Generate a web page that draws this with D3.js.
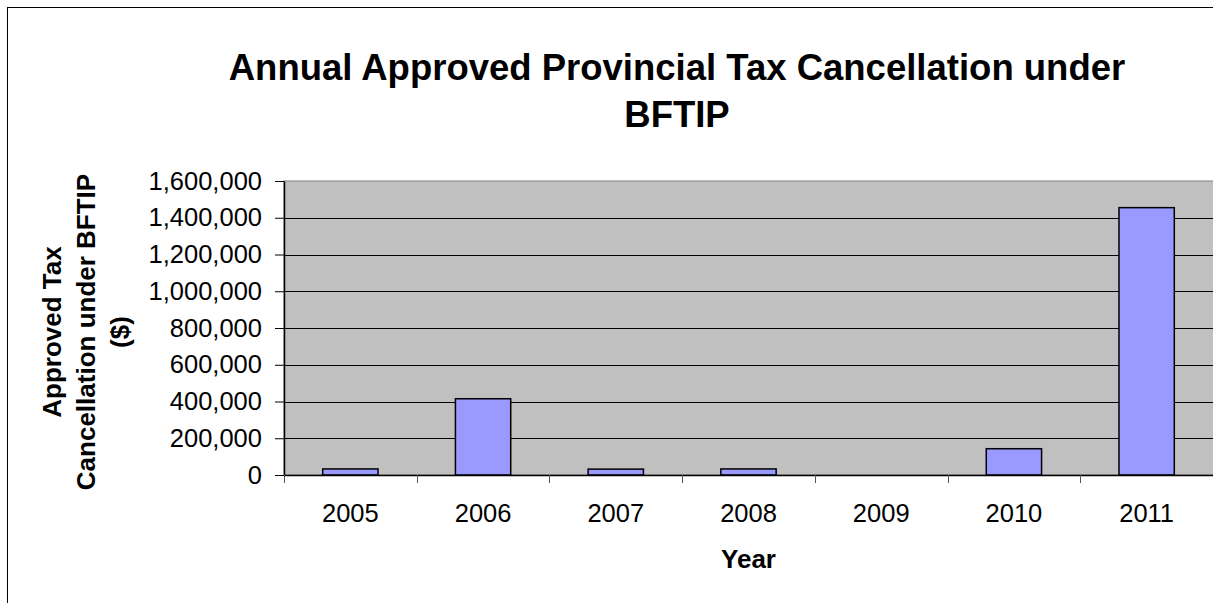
<!DOCTYPE html>
<html>
<head>
<meta charset="utf-8">
<script src="https://cdn.jsdelivr.net/npm/d3@7"></script>
<style>
  body { margin: 0; background: #fff; }
  svg { display: block; font-family: "Liberation Sans", Arial, sans-serif; }
</style>
</head>
<body>
<svg id="chart" width="1213" height="603"></svg>
<script>
// données
const years = ["2005", "2006", "2007", "2008", "2009", "2010", "2011"];
const amounts = [33000, 415000, 32000, 33000, 0, 143000, 1455000];
const yTicks = [0, 200000, 400000, 600000, 800000, 1000000, 1200000, 1400000, 1600000];
const titleLines = ["Annual Approved Provincial Tax Cancellation under", "BFTIP"];
const yLabelLines = ["Approved Tax", "Cancellation under BFTIP", "($)"];

const data = years.map((year, i) => ({ year: year, value: amounts[i] }));

const svg = d3.select("#chart");
const margin = { top: 181, right: 0, bottom: 128, left: 284 };
const width = 1213 - margin.left - margin.right;
const height = 603 - margin.top - margin.bottom;

// cadre extérieur
svg.append("rect")
  .attr("x", 7.5).attr("y", 7.5)
  .attr("width", 1300).attr("height", 700)
  .attr("fill", "#fff")
  .attr("stroke", "#000");

// titre
svg.append("text")
  .attr("text-anchor", "middle")
  .style("font-size", "36.5px")
  .style("font-weight", "bold")
  .selectAll("tspan")
  .data(titleLines)
  .join("tspan")
  .attr("x", 677)
  .attr("y", (d, i) => 80 + i * 47)
  .text(d => d);

const chart = svg.append("g")
  .attr("transform", `translate(${margin.left},${margin.top})`);

const x = d3.scaleBand()
  .domain(years)
  .range([0, width])
  .padding(0);

const inner = d3.scaleBand()
  .domain(["v"])
  .range([0, x.bandwidth()])
  .paddingOuter(0.7);

const y = d3.scaleLinear()
  .domain([0, 1600000])
  .range([height, 0]);

// zone de tracé
chart.append("rect")
  .attr("width", width + 5)
  .attr("height", height)
  .attr("fill", "#c0c0c0")
  .attr("stroke", "#808080");

// grillage
chart.append("g")
  .selectAll("line")
  .data(yTicks.filter(d => d > 0 && d < 1600000))
  .join("line")
  .attr("x1", 0).attr("x2", width + 5)
  .attr("y1", d => Math.round(y(d)) + 0.5)
  .attr("y2", d => Math.round(y(d)) + 0.5)
  .attr("stroke", "#000");

// barres
chart.selectAll(".bar")
  .data(data.filter(d => d.value > 0))
  .join("rect")
  .attr("class", "bar")
  .attr("x", d => x(d.year) + inner("v"))
  .attr("y", d => y(d.value))
  .attr("width", inner.bandwidth())
  .attr("height", d => height - y(d.value))
  .attr("fill", "#9999ff")
  .attr("stroke", "#000")
  .attr("stroke-width", 1.5);

// axe y
const yAxis = chart.append("g")
  .call(d3.axisLeft(y)
    .tickValues(yTicks)
    .tickSize(9)
    .tickSizeOuter(0)
    .tickPadding(13)
    .tickFormat(d3.format(",")));
yAxis.select(".domain").attr("stroke", "#000").attr("stroke-width", 1.5);
yAxis.selectAll("line").attr("stroke", "#000");
yAxis.selectAll("text")
  .style("font-size", "25.5px")
  .attr("fill", "#000");

// axe x
const xAxis = chart.append("g")
  .attr("transform", `translate(0,${height})`)
  .call(d3.axisBottom(x).tickSize(0).tickSizeOuter(0));
xAxis.select(".domain").attr("stroke", "#000").attr("stroke-width", 1.5);
xAxis.selectAll("text")
  .attr("y", 47)
  .attr("dy", null)
  .style("font-size", "25.5px")
  .attr("fill", "#000");

// graduations x entre les catégories
xAxis.append("g")
  .selectAll("line")
  .data(years)
  .join("line")
  .attr("x1", d => Math.round(x(d)) + 0.5)
  .attr("x2", d => Math.round(x(d)) + 0.5)
  .attr("y1", 0).attr("y2", 8)
  .attr("stroke", "#555");

// titres des axes
svg.append("text")
  .attr("text-anchor", "middle")
  .attr("x", 748.5)
  .attr("y", 568)
  .style("font-size", "26px")
  .style("font-weight", "bold")
  .text("Year");

svg.append("text")
  .attr("text-anchor", "middle")
  .attr("transform", "translate(0,332) rotate(-90)")
  .style("font-size", "26px")
  .style("font-weight", "bold")
  .selectAll("tspan")
  .data(yLabelLines)
  .join("tspan")
  .attr("x", 0)
  .attr("y", (d, i) => 61 + i * 34)
  .text(d => d);
</script>
</body>
</html>
